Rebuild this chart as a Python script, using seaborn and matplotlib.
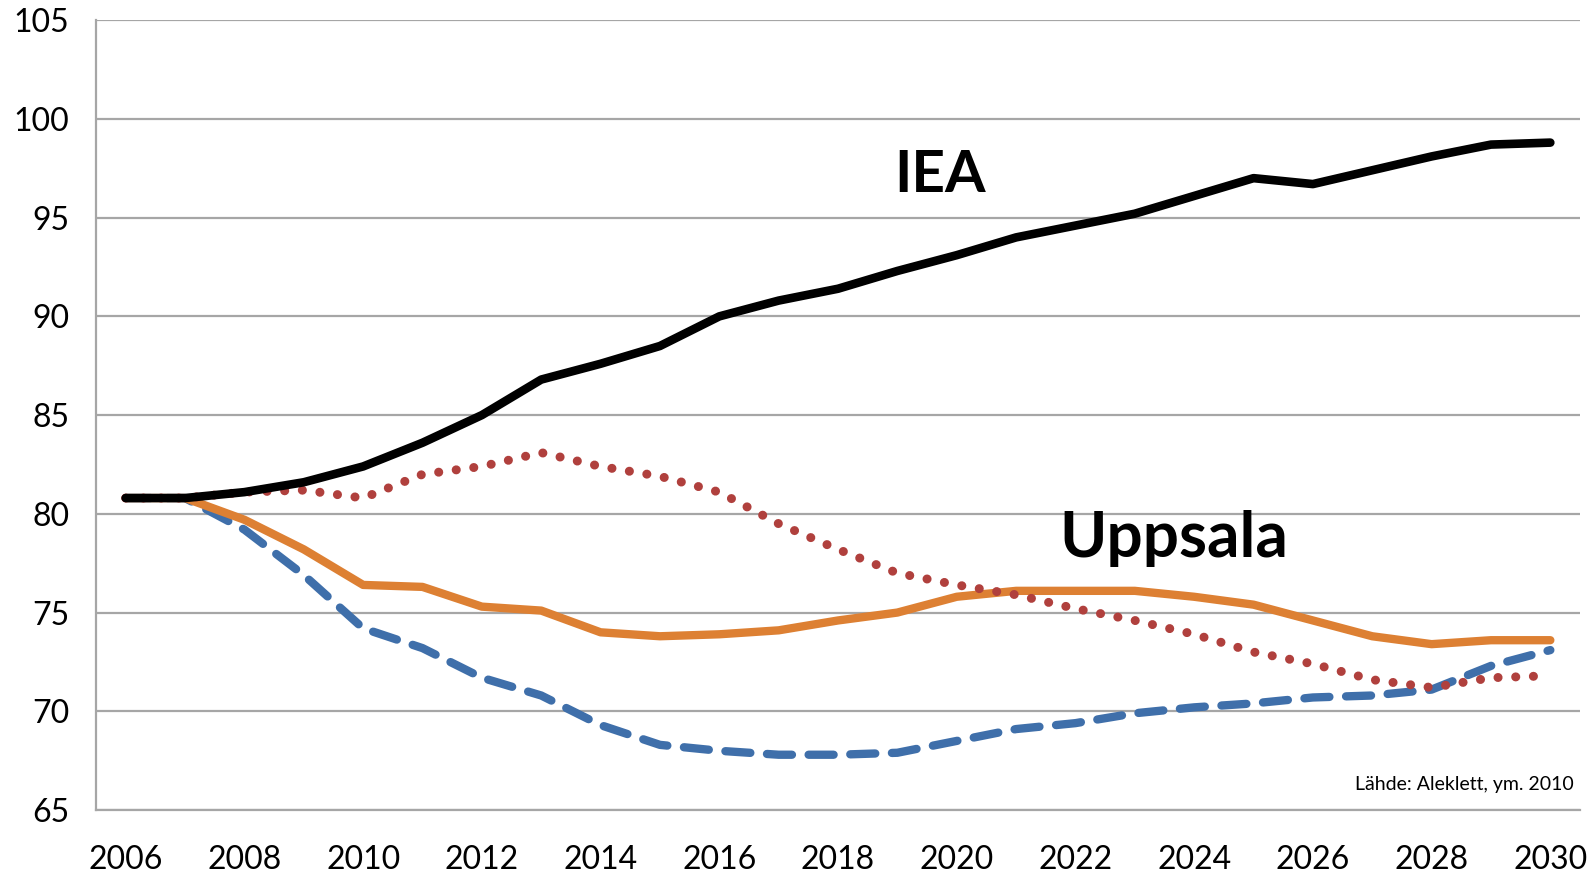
import matplotlib
matplotlib.use("Agg")
import matplotlib.pyplot as plt
import seaborn as sns
import pandas as pd

# Years on the category axis
years = list(range(2006, 2031))

# Series values
iea = [80.8, 80.8, 81.1, 81.6, 82.4, 83.6, 85.0, 86.8, 87.6, 88.5, 90.0, 90.8, 91.4,
       92.3, 93.1, 94.0, 94.6, 95.2, 96.1, 97.0, 96.7, 97.4, 98.1, 98.7, 98.8]
uppsala = [80.8, 80.8, 79.7, 78.2, 76.4, 76.3, 75.3, 75.1, 74.0, 73.8, 73.9, 74.1, 74.6,
           75.0, 75.8, 76.1, 76.1, 76.1, 75.8, 75.4, 74.6, 73.8, 73.4, 73.6, 73.6]
scen_blue = [80.8, 80.8, 79.2, 76.9, 74.2, 73.2, 71.7, 70.8, 69.3, 68.3, 68.0, 67.8, 67.8,
             67.9, 68.5, 69.1, 69.4, 69.9, 70.2, 70.4, 70.7, 70.8, 71.1, 72.3, 73.1]
scen_red = [80.8, 80.8, 81.1, 81.2, 80.8, 82.0, 82.4, 83.1, 82.4, 81.9, 81.1, 79.5, 78.2,
            77.0, 76.4, 75.9, 75.2, 74.6, 73.9, 73.0, 72.4, 71.6, 71.2, 71.7, 71.8]

tick_years = [str(y) for y in years[::2]]

df = pd.DataFrame({"year": years, "IEA": iea, "Uppsala": uppsala,
                   "blue": scen_blue, "red": scen_red})
df["pos"] = range(len(years))

sns.set_style("white")
plt.rcParams["font.family"] = ["Lato", "DejaVu Sans"]
plt.rcParams["text.color"] = "black"
plt.rcParams["xtick.labelcolor"] = "black"
plt.rcParams["ytick.labelcolor"] = "black"

fig = plt.figure(figsize=(15.87, 8.74), dpi=100)
ax = fig.add_axes([0.0605, 0.0732, 0.9351, 0.9037])

grid_c = "#a6a6a6"
ax.set_ylim(65, 105)
ax.set_xlim(-0.5, len(years) - 0.5)
ax.set_yticks(range(65, 106, 5))
ax.yaxis.grid(True, color=grid_c, linewidth=1.6)
ax.set_axisbelow(True)

# draw order: blue dashed, orange, red dotted, black on top
sns.lineplot(data=df, x="pos", y="blue", ax=ax, color="#3f6faa", linewidth=6.0,
             linestyle=(0, (3.0, 2.0)), dash_capstyle="round", solid_capstyle="round")
sns.lineplot(data=df, x="pos", y="Uppsala", ax=ax, color="#dd8033", linewidth=6.0,
             solid_capstyle="round")
sns.lineplot(data=df, x="pos", y="red", ax=ax, color="#b0403d", linewidth=6.5,
             linestyle=(0, (0.01, 1.95)), dash_capstyle="round")
sns.lineplot(data=df, x="pos", y="IEA", ax=ax, color="black", linewidth=6.2,
             solid_capstyle="round")

# category-boundary tick marks every two years, labels at category centres
ax.set_xticks([i - 0.5 for i in range(0, len(years), 2)])
ax.set_xticklabels([])
ax.set_xticks(list(range(0, len(years), 2)), minor=True)
ax.set_xticklabels(tick_years, minor=True)
ax.tick_params(axis="x", which="major", length=9, width=1.6, color=grid_c, direction="out")
ax.tick_params(axis="x", which="minor", length=0, pad=25, labelsize=23)
ax.tick_params(axis="y", length=9, width=1.6, color=grid_c, direction="out",
               pad=10, labelsize=23)

for side in ["top", "right"]:
    ax.spines[side].set_visible(False)
for side in ["left", "bottom"]:
    ax.spines[side].set_color(grid_c)
    ax.spines[side].set_linewidth(1.6)

ax.set_xlabel("")
ax.set_ylabel("")

fig.text(894 / 1587, 1 - 192 / 874, "IEA", fontsize=42, fontweight="bold",
         va="baseline", ha="left")
fig.text(1059 / 1587, 1 - 557 / 874, "Uppsala", fontsize=46, fontweight="bold",
         va="baseline", ha="left")
fig.text(1574 / 1587, 1 - 790 / 874, "Lähde: Aleklett, ym. 2010", fontsize=14,
         va="baseline", ha="right")

fig.savefig("out.png", dpi=100)
